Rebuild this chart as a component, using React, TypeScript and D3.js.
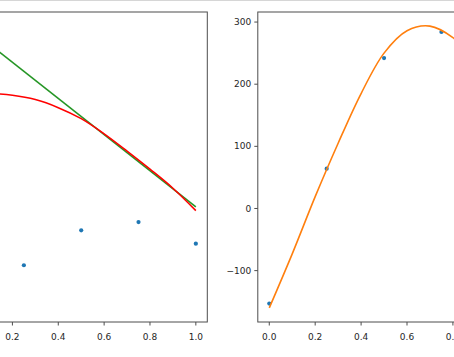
import React from "react";
import * as d3 from "d3";

const W = 454;
const H = 357;

// shared sample points
const pointX = [0, 0.25, 0.5, 0.75, 1.0];
const pointY = [-153, 64, 242, 284, 174];

// left panel lines
const greenX = [0, 1];
const greenY = [1281, 361];
const redX = [0, 0.1, 0.2, 0.3, 0.4, 0.5, 0.6, 0.7, 0.8, 0.9, 1.0];
const redY = [938, 938, 929, 907, 866, 810, 733, 645, 553, 456, 342];

// right panel fitted curve
const orangeX = [0, 0.1, 0.2, 0.3, 0.4, 0.5, 0.6, 0.7, 0.8, 0.9, 1.0];
const orangeY = [-160, -73, 19, 105, 185, 250, 286, 293.5, 275, 237, 175];

const xTicks = [0, 0.2, 0.4, 0.6, 0.8, 1.0];

const FONT = "DejaVu Sans, sans-serif";
const SPINE = "#4d4d4d";
const TXT = "#262626";

function padDomain(vals: number[]): [number, number] {
  const lo = d3.min(vals)!;
  const hi = d3.max(vals)!;
  const p = (hi - lo) * 0.05;
  return [lo - p, hi + p];
}

type Series = { xs: number[]; ys: number[]; color: string; curve: boolean };

function Panel(props: {
  left: number;
  right: number;
  top: number;
  bottom: number;
  series: Series[];
  showY: boolean;
}) {
  const { left, right, top, bottom, series, showY } = props;
  const allY = [...pointY, ...series.flatMap((s) => s.ys)];
  const x = d3.scaleLinear().domain([-0.05, 1.05]).range([left, right]);
  const y = d3.scaleLinear().domain(padDomain(allY)).range([bottom, top]);
  const yTicks = y.ticks(6);
  const fmtX = d3.format(".1f");
  const fmtY = d3.format("");
  const visX = xTicks.filter((t) => x(t) > -6 && x(t) < W + 6);
  return (
    <g>
      <g>
        {pointX.map((px, i) => (
          <circle key={i} cx={x(px)} cy={y(pointY[i])} r={2.1} fill="#1f77b4" />
        ))}
      </g>
      {series.map((s, k) => {
        const line = d3
          .line<number>()
          .x((_, i) => x(s.xs[i]))
          .y((v) => y(v))
          .curve(s.curve ? d3.curveCatmullRom.alpha(0.5) : d3.curveLinear);
        return (
          <path key={k} d={line(s.ys) || ""} fill="none" stroke={s.color} strokeWidth={1.6} />
        );
      })}
      <rect
        x={left}
        y={top}
        width={right - left}
        height={bottom - top}
        fill="none"
        stroke={SPINE}
        strokeWidth={1}
      />
      {visX.map((t) => (
        <g key={t}>
          <line x1={x(t)} x2={x(t)} y1={bottom} y2={bottom + 3.5} stroke={SPINE} />
          <text
            x={x(t)}
            y={bottom + 18}
            textAnchor="middle"
            fontFamily={FONT}
            fontSize={9}
            fill={TXT}
          >
            {fmtX(t)}
          </text>
        </g>
      ))}
      {showY &&
        yTicks.map((t) => (
          <g key={t}>
            <line x1={left - 3.5} x2={left} y1={y(t)} y2={y(t)} stroke={SPINE} />
            <text
              x={left - 6.5}
              y={y(t)}
              dy="0.35em"
              textAnchor="end"
              fontFamily={FONT}
              fontSize={9}
              fill={TXT}
            >
              {fmtY(t)}
            </text>
          </g>
        ))}
    </g>
  );
}

export default function App() {
  return (
    <svg
      width={W}
      height={H}
      style={{ position: "absolute", left: 0, top: 0, background: "#fff" }}
    >
      <rect x={0} y={0} width={W} height={H} fill="#fff" />
      <line x1={0} x2={W} y1={0.5} y2={0.5} stroke="#d6d6d6" strokeWidth={1.2} />
      <Panel
        left={-44.9}
        right={207.3}
        top={12}
        bottom={322}
        showY={false}
        series={[
          { xs: greenX, ys: greenY, color: "#269626", curve: false },
          { xs: redX, ys: redY, color: "#ff0000", curve: true },
        ]}
      />
      <Panel
        left={257.8}
        right={510.3}
        top={12}
        bottom={322}
        showY={true}
        series={[{ xs: orangeX, ys: orangeY, color: "#ff7f0e", curve: true }]}
      />
    </svg>
  );
}
